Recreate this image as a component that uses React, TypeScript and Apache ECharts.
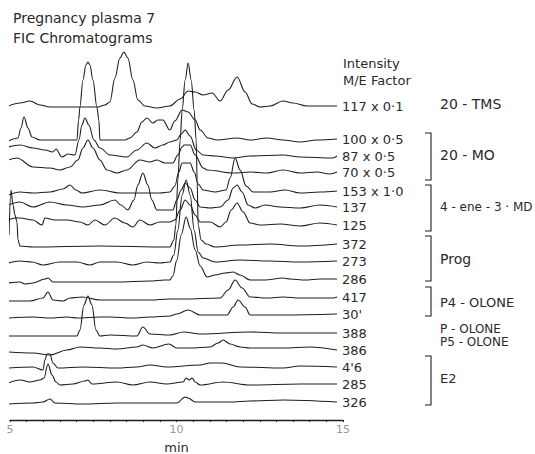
import React, { useEffect, useRef } from "react";
import * as echarts from "echarts";

// Trace labels (m/e x intensity factor), top to bottom
const traceLabels = ["117 x 0·1", "100 x 0·5", "87 x 0·5", "70 x 0·5", "153 x 1·0", "137", "125", "372", "273", "286", "417", "30'", "388", "386", "4'6", "285", "326"];
// Vertical stacking offset of each trace (intensity units)
const traceOffsets = [314, 281, 264, 248, 229, 213, 195, 176, 159, 141, 123, 106, 87, 70, 53, 36, 18];

// Each trace: [time (min), signal above its baseline]
const t1 = [[4.95,0],[5.30,3],[5.60,5],[5.90,1],[6.20,-1],[7.10,-1],[7.64,-1],[7.85,1],[8.00,4],[8.15,28],[8.30,48],[8.42,54],[8.54,48],[8.69,26],[8.84,6],[9.05,0],[9.41,-2],[9.80,0],[10.11,7],[10.35,15],[10.56,14],[10.80,11],[11.07,13],[11.31,5],[11.55,16],[11.82,29],[12.06,14],[12.27,2],[12.51,-1],[12.81,0],[13.20,5],[13.50,3],[13.92,0],[14.31,0],[14.82,0]];
const t2 = [[4.95,-2],[5.24,1],[5.33,11],[5.42,22],[5.54,11],[5.66,2],[5.90,-1],[7.01,-1],[7.06,19],[7.10,32],[7.19,59],[7.28,74],[7.34,77],[7.40,74],[7.49,59],[7.61,32],[7.67,19],[7.70,-1],[8.00,-1],[8.45,-1],[8.60,1],[8.81,7],[8.96,17],[9.11,21],[9.29,16],[9.44,19],[9.59,19],[9.80,9],[9.95,18],[10.17,29],[10.35,27],[10.56,19],[10.71,9],[10.95,1],[11.22,-1],[11.82,1],[12.21,-1],[12.72,1],[13.20,-1],[13.71,-3],[14.22,-1],[14.82,0]];
const t3 = [[4.95,9],[5.30,11],[5.69,8],[6.05,6],[6.29,4],[6.38,7],[6.56,-1],[6.74,2],[6.95,1],[7.07,16],[7.16,31],[7.25,38],[7.37,31],[7.52,16],[7.70,8],[8.00,1],[8.51,-1],[8.81,6],[9.11,13],[9.35,8],[9.59,11],[9.80,14],[10.01,16],[10.14,22],[10.26,26],[10.41,20],[10.59,6],[10.80,1],[11.16,0],[11.70,-2],[12.21,0],[13.20,1],[13.71,-1],[14.70,-2],[14.82,0]];
const t4 = [[4.95,12],[5.21,14],[5.69,5],[6.20,4],[6.50,2],[6.80,5],[7.04,12],[7.19,24],[7.34,32],[7.49,24],[7.70,12],[7.91,2],[8.21,-1],[8.51,2],[8.90,12],[9.20,10],[9.41,12],[9.65,9],[9.89,9],[10.04,17],[10.17,25],[10.23,27],[10.41,27],[10.56,17],[10.80,4],[10.92,2],[11.70,-1],[12.21,0],[12.72,-1],[13.20,2],[13.71,-1],[14.22,0],[14.60,-2],[14.82,0]];
const t5 = [[4.95,-4],[5.30,-1],[5.69,-2],[6.20,-1],[6.59,2],[6.80,6],[6.98,1],[7.16,-2],[7.70,1],[8.30,-2],[8.81,-2],[9.50,-2],[9.80,-1],[9.95,5],[10.07,19],[10.17,28],[10.41,28],[10.53,19],[10.65,7],[10.80,1],[11.16,-1],[11.49,1],[11.61,13],[11.76,33],[11.91,21],[12.09,5],[12.30,-1],[12.81,-1],[13.26,1],[13.71,-2],[14.31,-1],[14.82,0]];
const t6 = [[4.95,2],[5.30,5],[5.69,0],[6.20,5],[6.71,2],[7.19,0],[7.70,2],[8.15,7],[8.33,2],[8.54,-3],[8.72,7],[8.84,22],[8.99,34],[9.14,22],[9.26,7],[9.41,-3],[9.65,-3],[9.89,-3],[10.01,7],[10.14,17],[10.26,24],[10.41,19],[10.56,7],[10.71,0],[11.01,-1],[11.31,0],[11.55,7],[11.70,19],[11.82,22],[11.97,15],[12.15,2],[12.36,-1],[12.66,2],[13.11,0],[13.71,-1],[14.31,2],[14.82,0]];
const t7 = [[4.95,5],[5.15,7],[5.30,7],[5.69,5],[5.96,0],[6.05,7],[6.35,5],[6.71,5],[7.10,3],[7.34,0],[7.55,5],[7.85,0],[8.15,7],[8.45,2],[8.69,-2],[8.90,5],[9.20,0],[9.50,3],[9.80,3],[9.95,5],[10.11,15],[10.26,25],[10.41,20],[10.56,10],[10.71,3],[11.01,3],[11.31,-2],[11.49,3],[11.64,15],[11.82,22],[12.00,13],[12.21,2],[12.51,0],[13.11,1],[13.71,-1],[14.31,2],[14.82,0]];
const t8 = [[4.97,9],[5.03,54],[5.09,39],[5.15,29],[5.21,22],[5.24,4],[5.30,-2],[5.69,-3],[7.70,-2],[9.71,-3],[9.80,-3],[9.92,4],[9.98,19],[10.04,64],[10.11,104],[10.17,134],[10.26,164],[10.35,181],[10.44,164],[10.53,134],[10.59,104],[10.62,64],[10.65,19],[10.74,4],[10.89,0],[11.16,-3],[11.91,-1],[12.81,0],[13.71,-2],[14.82,0]];
const t9 = [[4.95,-2],[5.30,0],[5.66,-1],[5.99,-4],[6.50,-1],[7.01,-1],[7.40,-4],[7.70,-1],[8.21,-1],[8.69,-4],[9.11,-1],[9.50,-2],[9.80,-1],[9.92,6],[10.04,31],[10.17,66],[10.29,81],[10.41,66],[10.53,31],[10.65,9],[10.80,3],[11.16,-1],[11.91,1],[12.81,0],[13.71,-1],[14.82,0]];
const t10 = [[4.95,-4],[5.30,-3],[5.45,-5],[5.69,-4],[6.05,0],[6.14,1],[6.29,-3],[7.19,-3],[8.21,-3],[9.20,-2],[9.65,-1],[9.80,-1],[9.89,3],[10.01,19],[10.14,44],[10.29,62],[10.41,51],[10.56,29],[10.71,13],[10.92,2],[11.16,4],[11.46,6],[11.70,7],[11.91,4],[12.21,-1],[12.66,-1],[13.20,1],[13.41,0],[13.86,-1],[14.31,0],[14.82,0]];
const t11 = [[4.95,-4],[5.60,-4],[5.99,-1],[6.14,5],[6.29,-3],[6.59,-4],[6.80,-1],[7.16,0],[7.70,-3],[8.69,-3],[9.20,-3],[9.80,-2],[10.22,-2],[11.31,-1],[11.55,7],[11.76,17],[11.97,9],[12.21,0],[12.72,-1],[13.20,0],[13.71,-1],[14.70,-1],[14.82,0]];
const t12 = [[4.95,-4],[5.69,-3],[6.20,-4],[6.71,-3],[7.01,-4],[7.70,-3],[8.00,-3],[8.69,-4],[9.20,-3],[9.80,-2],[10.01,0],[10.35,4],[10.71,-1],[11.52,-1],[11.70,7],[11.85,14],[12.06,7],[12.21,-1],[13.20,-1],[14.82,0]];
const t13 = [[4.95,-3],[5.69,-3],[6.80,-3],[7.01,-3],[7.10,3],[7.22,28],[7.34,37],[7.46,28],[7.58,3],[7.70,-3],[8.00,-2],[8.81,-3],[8.99,6],[9.20,-1],[9.80,-2],[10.22,1],[10.71,-1],[12.21,1],[13.20,0],[14.82,0]];
const t14 = [[4.95,-2],[5.69,-3],[6.20,-5],[6.71,0],[7.10,3],[7.70,2],[8.21,1],[8.81,3],[8.99,5],[9.29,2],[9.77,6],[10.01,2],[10.41,2],[11.01,3],[11.25,7],[11.40,10],[11.61,6],[11.91,3],[12.21,2],[13.20,2],[14.01,3],[14.82,0]];
const t15 = [[4.95,-1],[5.69,0],[5.99,-3],[6.05,7],[6.11,13],[6.20,13],[6.29,4],[6.44,-1],[7.19,0],[8.21,-1],[8.81,0],[9.20,2],[9.71,0],[10.71,2],[11.01,4],[11.37,4],[11.91,0],[13.20,-1],[13.71,1],[14.82,0]];
const t16 = [[4.95,1],[5.30,4],[5.60,2],[5.90,4],[6.02,6],[6.14,20],[6.26,9],[6.38,2],[6.50,-1],[6.89,0],[7.25,3],[7.34,4],[7.46,0],[8.21,2],[8.69,-1],[9.20,2],[9.71,0],[10.20,2],[10.29,6],[10.38,4],[10.47,6],[10.56,2],[10.71,-1],[11.40,2],[12.21,-1],[13.71,0],[14.82,0]];
const t17 = [[4.95,-2],[5.69,-1],[5.99,0],[6.20,3],[6.35,-1],[7.19,-2],[8.21,-1],[9.20,-1],[10.01,-1],[10.26,5],[10.35,4],[10.56,0],[11.61,0],[12.21,1],[13.20,2],[14.82,0]];

const traces = [t1, t2, t3, t4, t5, t6, t7, t8, t9, t10, t11, t12, t13, t14, t15, t16, t17];

// Tick labels of the time axis
const xTickLabels = [5, 10, 15];

const FONT = '"DejaVu Sans"';
const INK = "#1e1e1e";
const TEXT = "#2a2a2a";

export default function App() {
  const ref = useRef<HTMLDivElement>(null);
  useEffect(() => {
    if (!ref.current) return;
    const chart = echarts.init(ref.current, undefined, { renderer: "svg" });

    const series = traces.map((pts, i) => ({
      type: "line",
      name: traceLabels[i],
      data: pts.map(([x, s]) => [x, traceOffsets[i] + s]),
      symbol: "none",
      showSymbol: false,
      smooth: 0.35,
      smoothMonotone: "x",
      clip: false,
      silent: true,
      lineStyle: { color: INK, width: 1.1 },
      endLabel: {
        show: true,
        formatter: traceLabels[i],
        distance: 5,
        fontFamily: FONT,
        fontSize: 13,
        color: TEXT,
      },
    }));

    const txt = (text: string, x: number, y: number, size: number) => ({
      type: "text",
      x,
      y,
      silent: true,
      style: { text, font: `${size}px ${FONT}`, fill: TEXT, textVerticalAlign: "middle", textAlign: "left" },
    });
    const bracket = (top: number, bottom: number) => ({
      type: "polyline",
      silent: true,
      shape: { points: [[425, top], [431, top], [431, bottom], [425, bottom]] },
      style: { stroke: INK, lineWidth: 1.1, fill: "none" },
    });

    chart.setOption({
      animation: false,
      backgroundColor: "#ffffff",
      grid: { left: 10, right: 192, top: 0, bottom: 34, outerBoundsMode: "none", containLabel: false },
      xAxis: {
        type: "value",
        min: 5,
        max: 15,
        interval: 0.5,
        name: "min",
        nameLocation: "middle",
        nameGap: 21,
        nameTextStyle: { fontFamily: FONT, fontSize: 13, color: TEXT },
        axisLine: { lineStyle: { color: INK, width: 1.3 } },
        axisTick: { show: true, length: 2, lineStyle: { color: INK } },
        splitLine: { show: false },
        axisLabel: {
          fontFamily: FONT,
          fontSize: 11,
          color: "#999",
          margin: 4,
          showMinLabel: true,
          showMaxLabel: true,
          formatter: (v: number) => (xTickLabels.includes(v) ? String(v) : ""),
        },
      },
      yAxis: { type: "value", min: 0, max: 420, show: false },
      series,
      graphic: [
        txt("Pregnancy plasma 7", 13, 18, 14),
        txt("FIC Chromatograms", 13, 38, 14),
        txt("Intensity", 343, 63, 13),
        txt("M/E Factor", 343, 80, 13),
        txt("20 - TMS", 440, 104, 14),
        bracket(133, 180),
        txt("20 - MO", 440, 155, 14),
        bracket(185, 231),
        txt("4 - ene - 3 · MD", 440, 207, 12),
        bracket(236, 281),
        txt("Prog", 440, 259, 14),
        bracket(287, 316),
        txt("P4 - OLONE", 440, 302, 13),
        txt("P - OLONE", 440, 329, 12),
        txt("P5 - OLONE", 440, 342, 12),
        bracket(356, 405),
        txt("E2", 440, 378, 13),
      ],
    });
    return () => chart.dispose();
  }, []);
  return (
    <div
      ref={ref}
      style={{ position: "fixed", left: 0, top: 0, width: 535, height: 454, background: "#fff" }}
    />
  );
}
